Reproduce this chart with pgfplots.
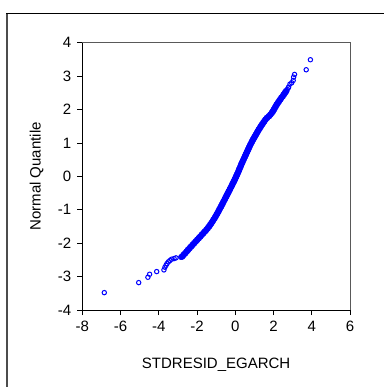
\documentclass[border=0pt]{standalone}
\usepackage{pgfplots}
\usepackage{pgfplotstable}
\pgfplotsset{compat=1.18}
\usepackage{fontspec}
\setmainfont{Liberation Sans}
\pgfplotstableread{
x y
-2.78 -2.40
-2.70 -2.35
-2.62 -2.30
-2.54 -2.25
-2.47 -2.20
-2.39 -2.15
-2.31 -2.10
-2.23 -2.05
-2.15 -2.00
-2.07 -1.95
-1.99 -1.90
-1.91 -1.85
-1.83 -1.80
-1.75 -1.75
-1.67 -1.70
-1.59 -1.65
-1.51 -1.60
-1.44 -1.55
-1.37 -1.50
-1.31 -1.45
-1.25 -1.40
-1.19 -1.35
-1.14 -1.30
-1.08 -1.25
-1.03 -1.20
-0.98 -1.15
-0.93 -1.10
-0.88 -1.05
-0.84 -1.00
-0.79 -0.95
-0.74 -0.90
-0.70 -0.85
-0.65 -0.80
-0.61 -0.75
-0.56 -0.70
-0.52 -0.65
-0.47 -0.60
-0.43 -0.55
-0.38 -0.50
-0.34 -0.45
-0.29 -0.40
-0.25 -0.35
-0.20 -0.30
-0.16 -0.25
-0.12 -0.20
-0.07 -0.15
-0.03 -0.10
0.01 -0.05
0.05 0.00
0.09 0.05
0.13 0.10
0.17 0.15
0.20 0.20
0.24 0.25
0.28 0.30
0.31 0.35
0.35 0.40
0.39 0.45
0.43 0.50
0.47 0.55
0.51 0.60
0.55 0.65
0.59 0.70
0.63 0.75
0.67 0.80
0.71 0.85
0.75 0.90
0.79 0.95
0.84 1.00
0.88 1.05
0.93 1.10
0.98 1.15
1.03 1.20
1.08 1.25
1.13 1.30
1.18 1.35
1.23 1.40
1.29 1.45
1.34 1.50
1.40 1.55
1.46 1.60
1.52 1.65
1.58 1.70
1.66 1.75
1.76 1.80
1.84 1.85
1.91 1.90
1.97 1.95
2.02 2.00
2.07 2.05
2.12 2.10
2.17 2.15
2.23 2.20
2.29 2.25
2.35 2.30
2.41 2.35
2.48 2.40
2.54 2.45
2.60 2.50
2.66 2.55
}\band
\pgfplotstableread{
x y
-6.85 -3.48
-5.05 -3.18
-4.57 -3.02
-4.48 -2.93
-4.11 -2.85
-3.73 -2.80
-3.68 -2.72
-3.62 -2.66
-3.57 -2.61
-3.50 -2.56
-3.42 -2.52
-3.33 -2.48
-3.20 -2.46
-3.10 -2.44
-2.85 -2.42
2.72 2.60
2.77 2.65
2.79 2.67
2.86 2.76
2.95 2.80
3.03 2.87
3.05 2.97
3.10 3.05
3.71 3.19
3.93 3.49
}\tails
\begin{document}
\fontsize{15}{18}\selectfont
\begin{tikzpicture}
\useasboundingbox (0pt,0pt) rectangle (383pt,-387pt);
\draw[line width=1.6pt, black!70] (7pt,-395pt) -- (7pt,-13.5pt);
\draw[line width=1pt, black] (6.2pt,-13.5pt) -- (395pt,-13.5pt);
\begin{axis}[
  at={(82.3pt,-310pt)}, anchor=south west,
  scale only axis, width=267.7pt, height=267.3pt,
  xmin=-8, xmax=6, ymin=-4, ymax=4,
  xtick={-8,-6,...,6}, ytick={-4,-3,...,4},
  xtick pos=left, ytick pos=left,
  tick align=outside, major tick length=5pt,
  every tick/.style={black, line width=0.8pt},
  axis line style={draw=none},
  clip=false,
  /pgf/number format/assume math mode=true,
  ticklabel style={font=\fontsize{15}{18}\selectfont, text=black},
  xticklabel style={yshift=-1pt},
  yticklabel style={xshift=-1pt},
  xlabel={STDRESID\_EGARCH}, ylabel={Normal Quantile},
  every axis x label/.style={at={(axis description cs:0.5,-0.2058)}, anchor=center, font=\fontsize{15}{18}\selectfont},
  every axis y label/.style={at={(axis description cs:-0.1703,0.5)}, rotate=90, anchor=center, font=\fontsize{15}{18}\selectfont},
]
\draw[black!65, line width=0.8pt] (rel axis cs:0,1) -- (rel axis cs:1,1) -- (rel axis cs:1,0);
\draw[black, line width=0.8pt] (rel axis cs:0,1) -- (rel axis cs:0,0) -- (rel axis cs:1,0);
\addplot[only marks, mark=*, mark size=3pt, blue, mark options={line width=0.6pt, fill=blue}] table[x=x, y=y] {\band};
\addplot[only marks, mark=o, mark size=2.2pt, blue, mark options={line width=1pt}] table[x=x, y=y] {\tails};
\end{axis}
\end{tikzpicture}
\end{document}
